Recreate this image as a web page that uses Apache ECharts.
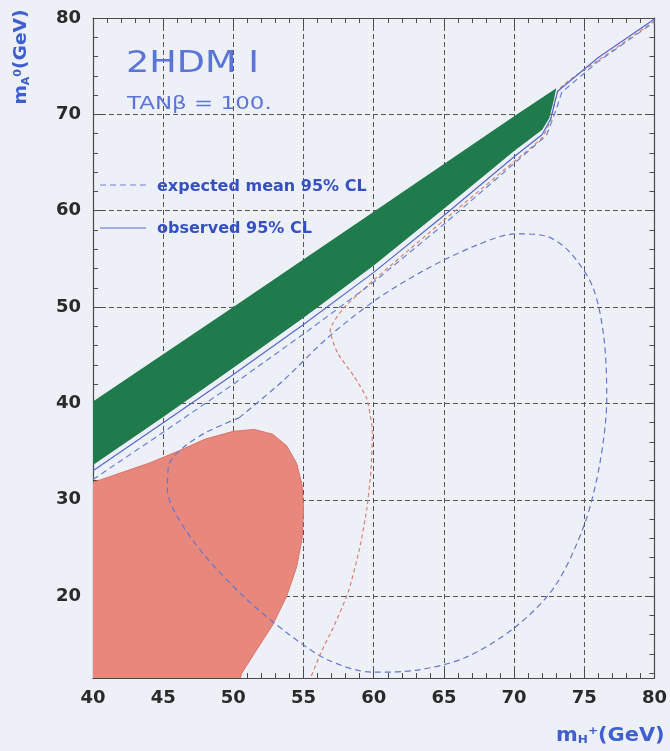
<!DOCTYPE html>
<html><head><meta charset="utf-8">
<script src="https://cdn.jsdelivr.net/npm/echarts@6/dist/echarts.min.js"></script>
<style>html,body{margin:0;padding:0;background:#edf0f6}#c{width:670px;height:751px}</style>
</head><body><div id="c"></div>
<script>
// axis ranges / ticks
const xRange = [40, 80];
const yRange = [11.5, 80];
const xTickStep = 5;

// green excluded band (polygon: upper edge left->right, lower edge right->left)
const greenBand = [
  [40,40.2],[50,50],[60,59.9],[70,69.8],[73,72.7],
  [72.8,71.3],[72.5,69.6],[72,68.4],[70,66.2],[65,60.2],[60,54.3],[55,48.9],[50,43.7],[45,38.6],[40,33.6]
];
// red excluded region (polygon, clipped by the frame)
const redRegion = [
  [38,9],[38,31.5],[40,31.8],[42,32.8],[44,33.8],[46,35],[48,36.3],[50,37.1],[51.5,37.3],[52.8,36.8],
  [53.8,35.6],[54.5,33.8],[54.9,31.5],[55,29],[54.9,26],[54.5,23],[53.8,20],[52.8,17],[51.6,14.3],[50.6,12],[50.2,10],[50,9]
];
// observed 95% CL (solid blue) along the band
const observedLine = [
  [40,33.0],[45,38.0],[50,43.0],[55,48.2],[60,53.6],[65,59.5],[70,65.6],[72,67.9],[72.6,69.5],[73.1,72.4],[76,75.9],[80,79.9]
];
// expected mean 95% CL (dashed blue) along the band
const expectedBand = [
  [40,32.1],[45,37.0],[50,42.0],[55,47.2],[60,52.6],[65,58.6],[70,64.9],[72.3,67.8],[73,70.5],[73.4,72.3],[76,75.5],[80,79.6]
];
// expected mean 95% CL (dashed blue) closed contour
const expectedLoop = [
  [50.4,38.5],[53.5,42.3],[56.7,46.8],[60.2,50.8],[63.7,53.9],[67.3,56.4],[70.1,57.6],[72.2,57.4],[73.9,55.8],
  [75.6,52.1],[76.4,46.8],[76.6,40.5],[76.1,33.7],[75,27.4],[72.9,21],[70.1,16.8],[66.5,13.6],[63,12.3],
  [59.9,12.1],[56.7,13.4],[53.9,16.1],[51,19.6],[48.2,23.8],[46.1,28],[45.3,31.1],[45.4,33.6],[46.5,35.5],
  [48.2,37.1],[50.4,38.5]
];
// red dashed contour
const redDashed = [
  [80,79.7],[76,75.6],[73.2,72.6],[72.6,69.4],[72,67.6],[70,65.1],[65,59.0],[60,52.8],[57.8,49.8],[56.9,47.6],
  [57.4,45.3],[58.6,42.8],[59.5,40.5],[59.9,37],[59.8,33],[59.5,29],[59,25],[58.2,20.5],[57.2,17],[56.2,14],[55.5,11.5]
];

const FONT = 'DejaVu Sans';
const chart = echarts.init(document.getElementById('c'), null, {renderer: 'canvas'});

function polygonSeries(data, fill, stroke) {
  return {
    type: 'custom', data: data, clip: true, silent: true, z: 1,
    renderItem: function (params, api) {
      if (params.dataIndex !== 0) return null;
      const pts = data.map(p => api.coord(p));
      return { type: 'polygon', shape: { points: pts }, style: { fill: fill, stroke: stroke || null, lineWidth: 1 } };
    }
  };
}
function lineSeries(data, color, type, width, smooth) {
  return {
    type: 'line', data: data, showSymbol: false, symbol: 'none', smooth: smooth || 0, clip: true, z: 3,
    lineStyle: { color: color, width: width || 1.2, type: type || 'solid' }, silent: true
  };
}

const axisLineStyle = { color: '#4a4a4a', width: 1.2 };
const splitStyle = { color: '#555', width: 1, type: [5, 3] };

const option = {
  backgroundColor: '#edf0f6',
  animation: false,
  grid: { left: 93, right: 8, top: 18, bottom: 73, show: false },
  xAxis: [
    {
      type: 'value', min: xRange[0], max: xRange[1], interval: xTickStep, position: 'bottom',
      axisLine: { show: true, lineStyle: axisLineStyle },
      axisTick: { show: true, inside: true, length: 9, lineStyle: { color: '#4a4a4a' } },
      minorTick: { show: true, splitNumber: 5, length: 5, lineStyle: { color: '#4a4a4a' } },
      axisLabel: { color: '#2a2a2a', fontFamily: FONT, fontWeight: 'bold', fontSize: 18, margin: 11 },
      splitLine: { show: true, lineStyle: splitStyle }
    },
    {
      type: 'value', min: xRange[0], max: xRange[1], interval: xTickStep, position: 'top',
      axisLine: { show: true, lineStyle: axisLineStyle },
      axisTick: { show: true, inside: true, length: 9, lineStyle: { color: '#4a4a4a' } },
      minorTick: { show: true, splitNumber: 5, length: 5, lineStyle: { color: '#4a4a4a' } },
      axisLabel: { show: false }, splitLine: { show: false }
    }
  ],
  yAxis: [
    {
      type: 'value', min: yRange[0], max: yRange[1], splitNumber: 7, position: 'left',
      axisLine: { show: true, lineStyle: axisLineStyle },
      axisTick: { show: true, inside: true, length: 9, lineStyle: { color: '#4a4a4a' } },
      minorTick: { show: true, splitNumber: 5, length: 5, lineStyle: { color: '#4a4a4a' } },
      axisLabel: { color: '#2a2a2a', fontFamily: FONT, fontWeight: 'bold', fontSize: 18, margin: 12,
        formatter: v => (Math.abs(v % 10) < 1e-6 ? String(v) : '') },
      splitLine: { show: true, lineStyle: splitStyle }
    },
    {
      type: 'value', min: yRange[0], max: yRange[1], splitNumber: 7, position: 'right',
      axisLine: { show: true, lineStyle: axisLineStyle },
      axisTick: { show: true, inside: true, length: 9, lineStyle: { color: '#4a4a4a' } },
      minorTick: { show: true, splitNumber: 5, length: 5, lineStyle: { color: '#4a4a4a' } },
      axisLabel: { show: false }, splitLine: { show: false }
    }
  ],
  series: [
    polygonSeries(redRegion, '#e8877b', '#d9746a'),
    polygonSeries(greenBand, '#1f7a4c', null),
    lineSeries(expectedLoop, '#6477d4', [6, 4], 1.2, 0.3),
    lineSeries(redDashed, '#d9826e', [4, 3], 1.2, 0.2),
    lineSeries(expectedBand, '#6a82dc', [6, 4], 1.2, 0),
    lineSeries(observedLine, '#5468d0', 'solid', 1.2, 0)
  ],
  graphic: [
    { type: 'text', x: 126, y: 64, scaleX: 1.22, z: 10, style: { text: '2HDM I', fill: '#5a74d8', font: '30px "DejaVu Sans"', align: 'left', verticalAlign: 'middle' } },
    { type: 'text', x: 127, y: 105, scaleX: 1.35, z: 10, style: { text: 'TANβ = 100.', fill: '#5a74d8', font: '17px "DejaVu Sans"', align: 'left', verticalAlign: 'middle' } },
    { type: 'line', z: 10, shape: { x1: 100, y1: 185, x2: 146, y2: 185 }, style: { stroke: '#6a82dc', lineWidth: 1.2, lineDash: [6, 4] } },
    { type: 'text', x: 157, y: 187, z: 10, style: { text: 'expected mean 95% CL', fill: '#3550c4', font: 'bold 16px "DejaVu Sans"', align: 'left', verticalAlign: 'middle' } },
    { type: 'line', z: 10, shape: { x1: 100, y1: 228, x2: 146, y2: 228 }, style: { stroke: '#5468d0', lineWidth: 1.2 } },
    { type: 'text', x: 157, y: 229, z: 10, style: { text: 'observed 95% CL', fill: '#3550c4', font: 'bold 16px "DejaVu Sans"', align: 'left', verticalAlign: 'middle' } },
    { type: 'text', x: 556, y: 736, scaleX: 1.1, z: 10, style: {
        text: '{m|m}{s|H}{p|+}{m|(GeV)}', align: 'left', verticalAlign: 'middle', fill: '#3f5fd0',
        rich: {
          m: { font: 'bold 19px "DejaVu Sans"', fill: '#3f5fd0' },
          s: { font: 'bold 11px "DejaVu Sans"', fill: '#3f5fd0', verticalAlign: 'bottom', padding: [9, 0, 0, 0] },
          p: { font: 'bold 11px "DejaVu Sans"', fill: '#3f5fd0', verticalAlign: 'top', padding: [0, 0, 9, 0] }
        } } },
    { type: 'text', x: 22, y: 57, rotation: Math.PI / 2, scaleX: 1.1, z: 10, style: {
        text: '{m|m}{s|A}{p|0}{m|(GeV)}', align: 'center', verticalAlign: 'middle', fill: '#3f5fd0',
        rich: {
          m: { font: 'bold 17px "DejaVu Sans"', fill: '#3f5fd0' },
          s: { font: 'bold 10px "DejaVu Sans"', fill: '#3f5fd0', verticalAlign: 'bottom', padding: [8, 0, 0, 0] },
          p: { font: 'bold 10px "DejaVu Sans"', fill: '#3f5fd0', verticalAlign: 'top', padding: [0, 0, 8, 0] }
        } } }
  ]
};
chart.setOption(option);
</script>
</body></html>
